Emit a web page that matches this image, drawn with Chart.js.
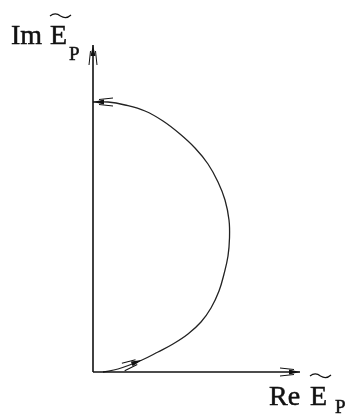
<!DOCTYPE html>
<html>
<head>
<meta charset="utf-8">
<script src="https://cdn.jsdelivr.net/npm/chart.js@4/dist/chart.umd.min.js"></script>
<style>
  html, body { margin: 0; padding: 0; background: #fff; }
  #wrap { width: 346px; height: 414px; position: relative; }
</style>
</head>
<body>
<div id="wrap"><canvas id="locus"></canvas></div>
<script>
// Locus of the complex field amplitude, traced from the origin round to the Im axis
const arcRe = [10, 25, 49, 65, 80, 95, 108, 118, 126, 131, 135, 136.5, 136, 132, 125, 115, 102, 87, 70, 52, 32, 15, 0];
const arcIm = [0, 3, 12, 20, 28, 38, 50, 64, 81, 98, 116, 134, 152, 172, 190, 208, 224, 238, 251, 261, 267, 270, 270];

// Axis extents (Re axis end, Im axis end)
const reAxisEnd = 207;
const imAxisEnd = 327;

const INK = '#111';

const arcPoints = arcRe.map((x, i) => ({ x: x, y: arcIm[i] }));

// Draws a narrow filled tip with two trailing strokes, pointing from (x0,y0) to (x1,y1)
function drawArrow(ctx, x0, y0, x1, y1) {
  const a = Math.atan2(y1 - y0, x1 - x0);
  ctx.save();
  ctx.translate(x1, y1);
  ctx.rotate(a);
  ctx.fillStyle = INK;
  ctx.strokeStyle = INK;
  ctx.beginPath();
  ctx.moveTo(0, 0);
  ctx.lineTo(-11, -2.5);
  ctx.lineTo(-11, 2.5);
  ctx.closePath();
  ctx.fill();
  ctx.lineWidth = 1;
  ctx.beginPath();
  ctx.moveTo(-6, -2.5); ctx.lineTo(-20, -4);
  ctx.moveTo(-6, 2.5); ctx.lineTo(-20, 4);
  ctx.stroke();
  ctx.restore();
}

function drawTilde(ctx, x, y, w) {
  ctx.save();
  ctx.strokeStyle = INK;
  ctx.lineWidth = 1.2;
  ctx.beginPath();
  ctx.moveTo(x, y + 1);
  ctx.bezierCurveTo(x + w * 0.15, y - 1.5, x + w * 0.35, y - 1.5, x + w * 0.5, y + 1);
  ctx.bezierCurveTo(x + w * 0.65, y + 3, x + w * 0.85, y + 3, x + w, y);
  ctx.stroke();
  ctx.restore();
}

// Text with a hairline outline so the serif glyphs read a little heavier
function inkText(ctx, s, x, y) {
  ctx.fillText(s, x, y);
  ctx.strokeText(s, x, y);
}

const decorations = {
  id: 'decorations',
  afterDatasetsDraw(chart) {
    const ctx = chart.ctx;
    const sx = chart.scales.x, sy = chart.scales.y;
    const px = v => sx.getPixelForValue(v);
    const py = v => sy.getPixelForValue(v);

    // axis arrowheads
    drawArrow(ctx, px(0), py(0), px(0), py(imAxisEnd));
    drawArrow(ctx, px(0), py(0), px(reAxisEnd), py(0));

    // direction marks on the locus
    const n = arcPoints.length;
    drawArrow(ctx, px(arcRe[n - 2]), py(arcIm[n - 2]), px(arcRe[n - 1]), py(arcIm[n - 1]));
    drawArrow(ctx, px(arcRe[1]), py(arcIm[1]), px(arcRe[2]), py(arcIm[2]));

    // axis titles
    ctx.save();
    ctx.fillStyle = INK;
    ctx.strokeStyle = INK;
    ctx.lineWidth = 0.5;
    ctx.textBaseline = 'alphabetic';
    ctx.font = '28px "Liberation Serif", "DejaVu Serif", serif';
    inkText(ctx, 'Im', 11, 44);
    inkText(ctx, 'E', 50, 44);
    inkText(ctx, 'Re', 269, 405);
    inkText(ctx, 'E', 310, 405);
    ctx.font = '19px "Liberation Serif", "DejaVu Serif", serif';
    inkText(ctx, 'P', 69, 60);
    inkText(ctx, 'P', 335, 413);
    ctx.restore();
    drawTilde(ctx, 50, 15, 21);
    drawTilde(ctx, 310, 375, 21);
  }
};

new Chart(document.getElementById('locus'), {
  type: 'scatter',
  data: {
    datasets: [
      {
        data: [{ x: 0, y: 0 }, { x: 0, y: imAxisEnd }],
        showLine: true, borderColor: INK, borderWidth: 1.6, pointRadius: 0
      },
      {
        data: [{ x: 0, y: 0 }, { x: reAxisEnd, y: 0 }],
        showLine: true, borderColor: INK, borderWidth: 1.6, pointRadius: 0
      },
      {
        data: arcPoints,
        showLine: true, borderColor: '#222', borderWidth: 1.3, pointRadius: 0,
        tension: 0.4
      }
    ]
  },
  options: {
    responsive: true,
    maintainAspectRatio: false,
    animation: false,
    layout: { padding: 0 },
    plugins: { legend: { display: false }, tooltip: { enabled: false } },
    scales: {
      x: { type: 'linear', display: false, min: -93, max: 253 },
      y: { type: 'linear', display: false, min: -42, max: 372 }
    }
  },
  plugins: [decorations]
});
</script>
</body>
</html>
